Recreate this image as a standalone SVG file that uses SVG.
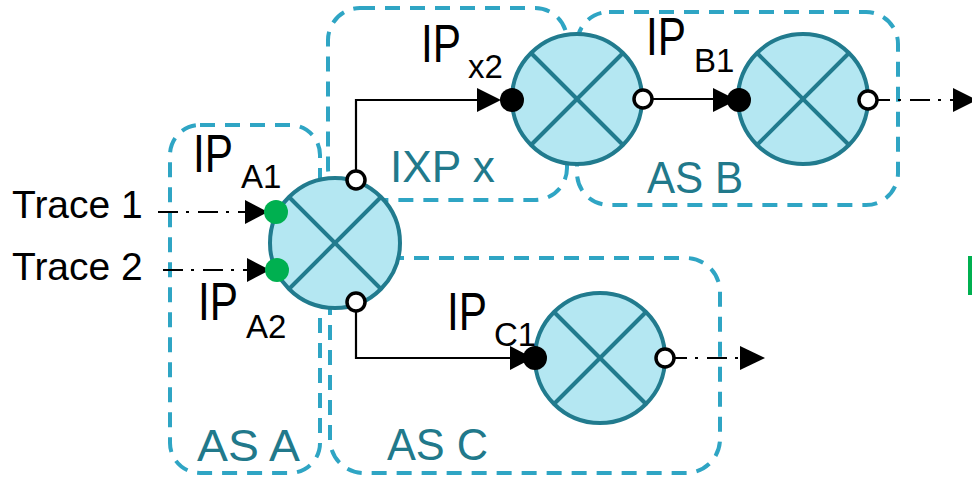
<svg xmlns="http://www.w3.org/2000/svg" width="972" height="479" viewBox="0 0 972 479">
<style>
.box{fill:none;stroke:#2fa5c4;stroke-width:4;stroke-dasharray:15,10}
.rt{fill:#b4e7f2;stroke:#217b8e;stroke-width:4}
.x{stroke:#217b8e;stroke-width:4}
.ln{fill:none;stroke:#000;stroke-width:2.2}
.dd{fill:none;stroke:#000;stroke-width:2.2;stroke-dasharray:20,8,3,9}
.ah{fill:#000}
.op{fill:#fff;stroke:#000;stroke-width:3.5}
.bd{fill:#000}
.gd{fill:#00b050}
.ip{font-family:"Liberation Sans",Arial,sans-serif;font-size:54px;fill:#000}
.sub{font-family:"Liberation Sans",Arial,sans-serif;font-size:33px;fill:#000}
.tr{font-family:"Liberation Sans",Arial,sans-serif;font-size:39px;fill:#000}
.as{font-family:"Liberation Sans",Arial,sans-serif;font-size:45px;fill:#21798b}
</style>
<defs>
<g id="cross">
<line class="x" x1="-46" y1="-46" x2="46" y2="46"/>
<line class="x" x1="-46" y1="46" x2="46" y2="-46"/>
</g>
</defs>
<g id="boxes">
<rect id="asA" class="box" x="170" y="125" width="150" height="348" rx="30"/>
<rect id="ixp" class="box" x="328" y="8" width="239" height="192" rx="32"/>
<rect id="asB" class="box" x="577" y="12" width="321" height="193" rx="32"/>
<rect id="asC" class="box" x="330" y="258" width="390" height="215" rx="34"/>
</g>
<g id="connectors">
<path class="dd" d="M158 212 H246"/>
<path class="dd" d="M163 270 H247"/>
<path class="ln" d="M356 180 V100 H480"/>
<path class="ln" d="M643 99 H716"/>
<path class="dd" d="M870 100 H955"/>
<path class="ln" d="M356 302 V358 H512"/>
<path class="dd" d="M667 358 H742"/>
<polygon class="ah" points="245,200 245,224 268,212"/>
<polygon class="ah" points="247,258 247,282 270,270"/>
<polygon class="ah" points="477,88 477,112 501,100"/>
<polygon class="ah" points="713,88 713,112 737,100"/>
<polygon class="ah" points="953,88 953,112 977,100"/>
<polygon class="ah" points="510,346 510,370 533,358"/>
<polygon class="ah" points="740,346 740,370 765,358"/>
</g>
<g id="routerA">
<circle class="rt" cx="335" cy="243" r="65"/>
<use href="#cross" x="335" y="243"/>
<circle class="gd" cx="276" cy="212" r="12"/>
<circle class="gd" cx="277" cy="270" r="12"/>
<circle class="op" cx="356" cy="180" r="9"/>
<circle class="op" cx="356" cy="302" r="9"/>
</g>
<g id="routerX">
<circle class="rt" cx="577" cy="99" r="65"/>
<use href="#cross" x="577" y="99"/>
<circle class="bd" cx="512" cy="100" r="12"/>
<circle class="op" cx="643" cy="99" r="9"/>
</g>
<g id="routerB">
<circle class="rt" cx="803" cy="99" r="65"/>
<use href="#cross" x="803" y="99"/>
<circle class="bd" cx="739" cy="100" r="12"/>
<circle class="op" cx="868" cy="100" r="9"/>
</g>
<g id="routerC">
<circle class="rt" cx="600" cy="358" r="65"/>
<use href="#cross" x="600" y="358"/>
<circle class="bd" cx="535" cy="358" r="12"/>
<circle class="op" cx="665" cy="358" r="9"/>
</g>
<g id="labels">
<text class="tr" x="12" y="218">Trace 1</text>
<text class="tr" x="12" y="280">Trace 2</text>
<text class="ip" x="193" y="172" textLength="40" lengthAdjust="spacingAndGlyphs">IP</text>
<text class="sub" x="241" y="188">A1</text>
<text class="ip" x="198" y="320" textLength="40" lengthAdjust="spacingAndGlyphs">IP</text>
<text class="sub" x="246" y="338">A2</text>
<text class="ip" x="421" y="62" textLength="40" lengthAdjust="spacingAndGlyphs">IP</text>
<text class="sub" x="468" y="78">x2</text>
<text class="ip" x="646" y="55" textLength="40" lengthAdjust="spacingAndGlyphs">IP</text>
<text class="sub" x="694" y="72">B1</text>
<text class="ip" x="447" y="330" textLength="40" lengthAdjust="spacingAndGlyphs">IP</text>
<text class="sub" x="494" y="346">C1</text>
<text class="as" x="390" y="182" textLength="105" lengthAdjust="spacingAndGlyphs">IXP x</text>
<text class="as" x="647" y="193" textLength="96" lengthAdjust="spacingAndGlyphs">AS B</text>
<text class="as" x="387" y="460" textLength="101" lengthAdjust="spacingAndGlyphs">AS C</text>
<text class="as" x="197" y="461" textLength="103" lengthAdjust="spacingAndGlyphs">AS A</text>
</g>
<rect x="968" y="256" width="6" height="39" fill="#00b050"/>
</svg>
